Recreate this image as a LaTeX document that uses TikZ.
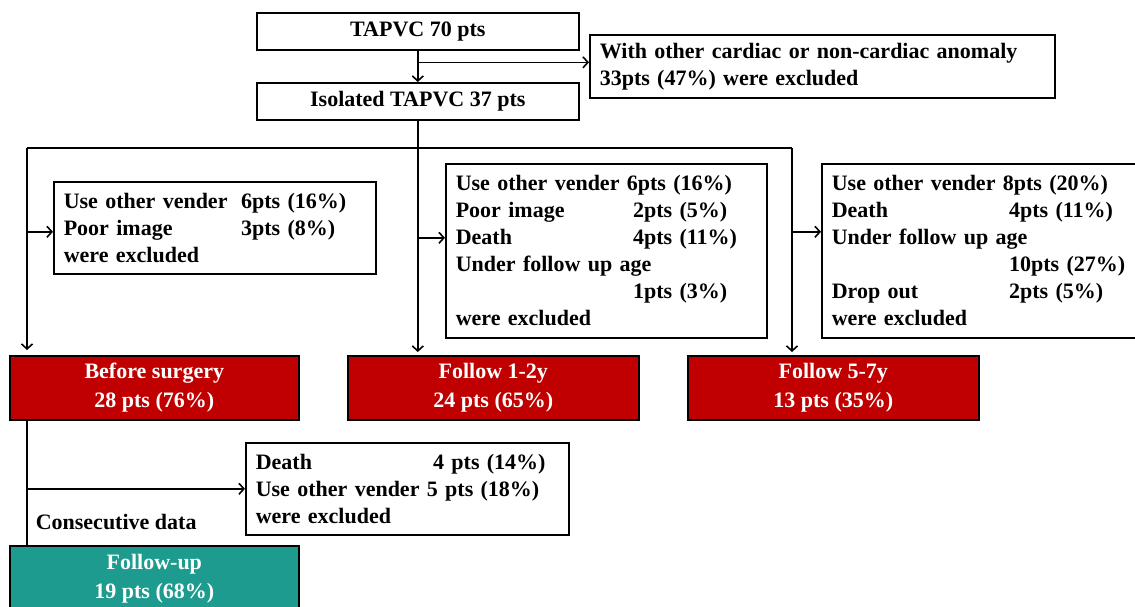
\documentclass[tikz,border=0pt]{standalone}
\usepackage{fontspec}
\setmainfont{Liberation Serif}
\usetikzlibrary{arrows.meta}
\definecolor{boxred}{RGB}{192,0,0}
\definecolor{boxteal}{RGB}{30,155,143}
\newcommand{\lcol}[1]{\makebox[170pt][l]{#1}}
\begin{document}
\begin{tikzpicture}[x=1pt,y=-1pt,line width=1.6pt,
    >={Straight Barb[length=5pt,width=11pt]},
    every node/.style={font=\fontsize{22}{27}\selectfont\bfseries},
    mainbox/.style={draw,anchor=north west,inner sep=0pt,minimum height=37pt},
    xbox/.style={draw,anchor=north west,inner xsep=10pt,inner ysep=0pt,align=left},
    redbox/.style={draw,fill=boxred,text=white,anchor=north west,align=center,
        inner sep=0pt,minimum height=64pt,font=\fontsize{22}{29}\selectfont\bfseries},
    tealbox/.style={redbox,fill=boxteal}]
            \useasboundingbox (0,0) rectangle (1135,606);
            \clip (0,0) rectangle (1135,606);
            % top boxes
            \node [mainbox, minimum width=322pt] (tapvc) at (256,12) {TAPVC 70 pts};
            \node [mainbox, minimum width=322pt] (iso) at (256,82) {Isolated TAPVC 37 pts};
            \node [xbox, text width=445pt, minimum height=63pt] (with) at (589,34)
                {With other cardiac or non-cardiac anomaly\\33pts (47\%) were excluded};
            % exclusion boxes
            \node [xbox, text width=302pt, minimum height=92pt] (ex1) at (53,181)
                {\lcol{Use other vender} 6pts (16\%)\\\lcol{Poor image} 3pts (8\%)\\were excluded};
            \node [xbox, text width=301pt, minimum height=174pt] (ex2) at (445,163)
                {Use other vender 6pts (16\%)\\\lcol{Poor image} 2pts (5\%)\\\lcol{Death} 4pts (11\%)\\Under follow up age\\\lcol{} 1pts (3\%)\\were excluded};
            \node [xbox, text width=320pt, minimum height=174pt] (ex3) at (821,163)
                {Use other vender 8pts (20\%)\\\lcol{Death} 4pts (11\%)\\Under follow up age\\\lcol{} 10pts (27\%)\\\lcol{Drop out} 2pts (5\%)\\were excluded};
            \node [xbox, text width=303pt, minimum height=92pt] (ex4) at (245,442)
                {\lcol{Death} 4 pts (14\%)\\Use other vender 5 pts (18\%)\\were excluded};
            % groups
            \node [redbox, minimum width=289pt] (before) at (9,355) {Before surgery\\28 pts (76\%)};
            \node [redbox, minimum width=291pt] (fol1) at (347,355) {Follow 1-2y\\24 pts (65\%)};
            \node [redbox, minimum width=291pt] (fol5) at (687,355) {Follow 5-7y\\13 pts (35\%)};
            \node [tealbox, minimum width=289pt, minimum height=66pt] (fup) at (9,545) {Follow-up\\19 pts (68\%)};
            \node [anchor=west, inner sep=0pt] (consec) at (35,522) {Consecutive data};
            % connectors
            \coordinate (bl) at (27,148);
            \coordinate (br) at (792,148);
            \coordinate (bm) at (iso.south |- bl);
            \coordinate (w1) at ([yshift=4pt]with.west);
            \coordinate (e1) at ([yshift=-4pt]ex1.west);
            \coordinate (e2) at ([yshift=13pt]ex2.west);
            \coordinate (e3) at ([yshift=19pt]ex3.west);
            \coordinate (b0) at ([xshift=18pt]before.south west);
            \draw [->] (tapvc) -- (iso);
            \draw [->] (tapvc.south |- w1) -- (w1);
            \draw (iso) -- (bm);
            \draw (bl) -- (br);
            \draw [->, shorten >=5pt] (bl) -- (bl |- before.north);
            \draw [->, shorten >=3pt] (bm) -- (bm |- fol1.north);
            \draw [->, shorten >=3pt] (br) -- (br |- fol5.north);
            \draw [->] (bl |- e1) -- (e1);
            \draw [->] (bm |- e2) -- (e2);
            \draw [->] (br |- e3) -- (e3);
            \draw (b0) -- (b0 |- fup.north);
            \draw [->] (b0 |- ex4.west) -- (ex4.west);
\end{tikzpicture}
\end{document}
